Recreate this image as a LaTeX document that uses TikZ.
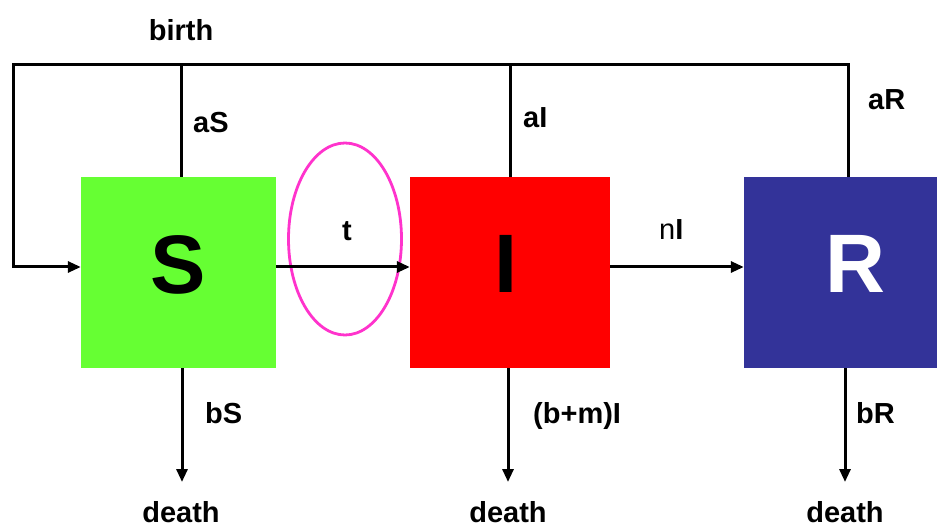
\documentclass[tikz,border=0pt]{standalone}
\usepackage{fontspec}
\setmainfont{Liberation Sans}
\usetikzlibrary{arrows.meta,shapes.geometric}
\definecolor{sgreen}{HTML}{66FF33}
\definecolor{ired}{HTML}{FF0000}
\definecolor{rblue}{HTML}{333399}
\definecolor{emag}{HTML}{FF33CC}
\tikzset{
  box/.style={draw=none, minimum height=191pt, inner sep=0pt},
  line/.style={line width=3pt, black},
  arr/.style={line width=3pt, black, -{Triangle[length=13pt,width=11pt]}},
  lbl/.style={font=\fontsize{29}{29}\selectfont\bfseries, inner sep=0pt},
  big/.style={font=\fontsize{83}{83}\selectfont\bfseries, inner sep=0pt}
}
\begin{document}
\begin{tikzpicture}[x=1pt,y=-1pt]
\useasboundingbox (0,0) rectangle (937,529);
% boxes
\node[box, fill=sgreen, minimum width=195pt] (S) at (178.5,272.5) {};
\node[box, fill=ired, minimum width=200pt] (I) at (510,272.5) {};
\node[box, fill=rblue, minimum width=193pt] (R) at (840.5,272.5) {};
\node[big, anchor=base] (Sl) at (178,294) {S};
\node[big, anchor=base] (Il) at (506.5,293) {I};
\node[big, anchor=base, text=white] (Rl) at (855.5,293) {R};
% ellipse
\node[ellipse, draw=emag, line width=2.8pt, minimum width=113pt, minimum height=192pt] (E) at (345,239) {};
% coordinates
\coordinate (lt) at (13,65);
\coordinate (t1) at (181,65);
\coordinate (t2) at (510,65);
\coordinate (t3) at (848,65);
\coordinate (mid) at (0,267);
\coordinate (d1) at (182,482);
\coordinate (d2) at (508,482);
\coordinate (d3) at (845,482);
% top loop
\draw[line, line cap=rect] (t3) -- (lt);
\draw[arr] (lt) -- (lt |- mid) -- (S.west |- mid);
\draw[line] (t1) -- (t1 |- S.north);
\draw[line] (t2) -- (t2 |- I.north);
\draw[line] (t3) -- (t3 |- R.north);
% horizontal flows
\draw[arr] (S.east |- mid) -- (I.west |- mid);
\draw[arr] (I.east |- mid) -- (R.west |- mid);
% deaths
\draw[arr] (d1 |- S.south) -- (d1);
\draw[arr] (d2 |- I.south) -- (d2);
\draw[arr] (d3 |- R.south) -- (d3);
% labels
\node[lbl, anchor=base] (birth) at (181,41) {birth};
\node[lbl, anchor=base west] (aS) at (193,133) {aS};
\node[lbl, anchor=base west] (aI) at (523,128) {aI};
\node[lbl, anchor=base west] (aR) at (868,110) {aR};
\node[lbl, anchor=base] (t) at (347,241) {t};
\node[lbl, anchor=base west] (nI) at (659,240) {\mdseries n\bfseries I};
\node[lbl, anchor=base west] (bS) at (205,423) {bS};
\node[lbl, anchor=base west] (bmI) at (533,423) {(b+m)I};
\node[lbl, anchor=base west] (bR) at (856,423) {bR};
\node[lbl, anchor=base] (D1) at (181,522) {death};
\node[lbl, anchor=base] (D2) at (508,522) {death};
\node[lbl, anchor=base] (D3) at (845,522) {death};
\end{tikzpicture}
\end{document}
